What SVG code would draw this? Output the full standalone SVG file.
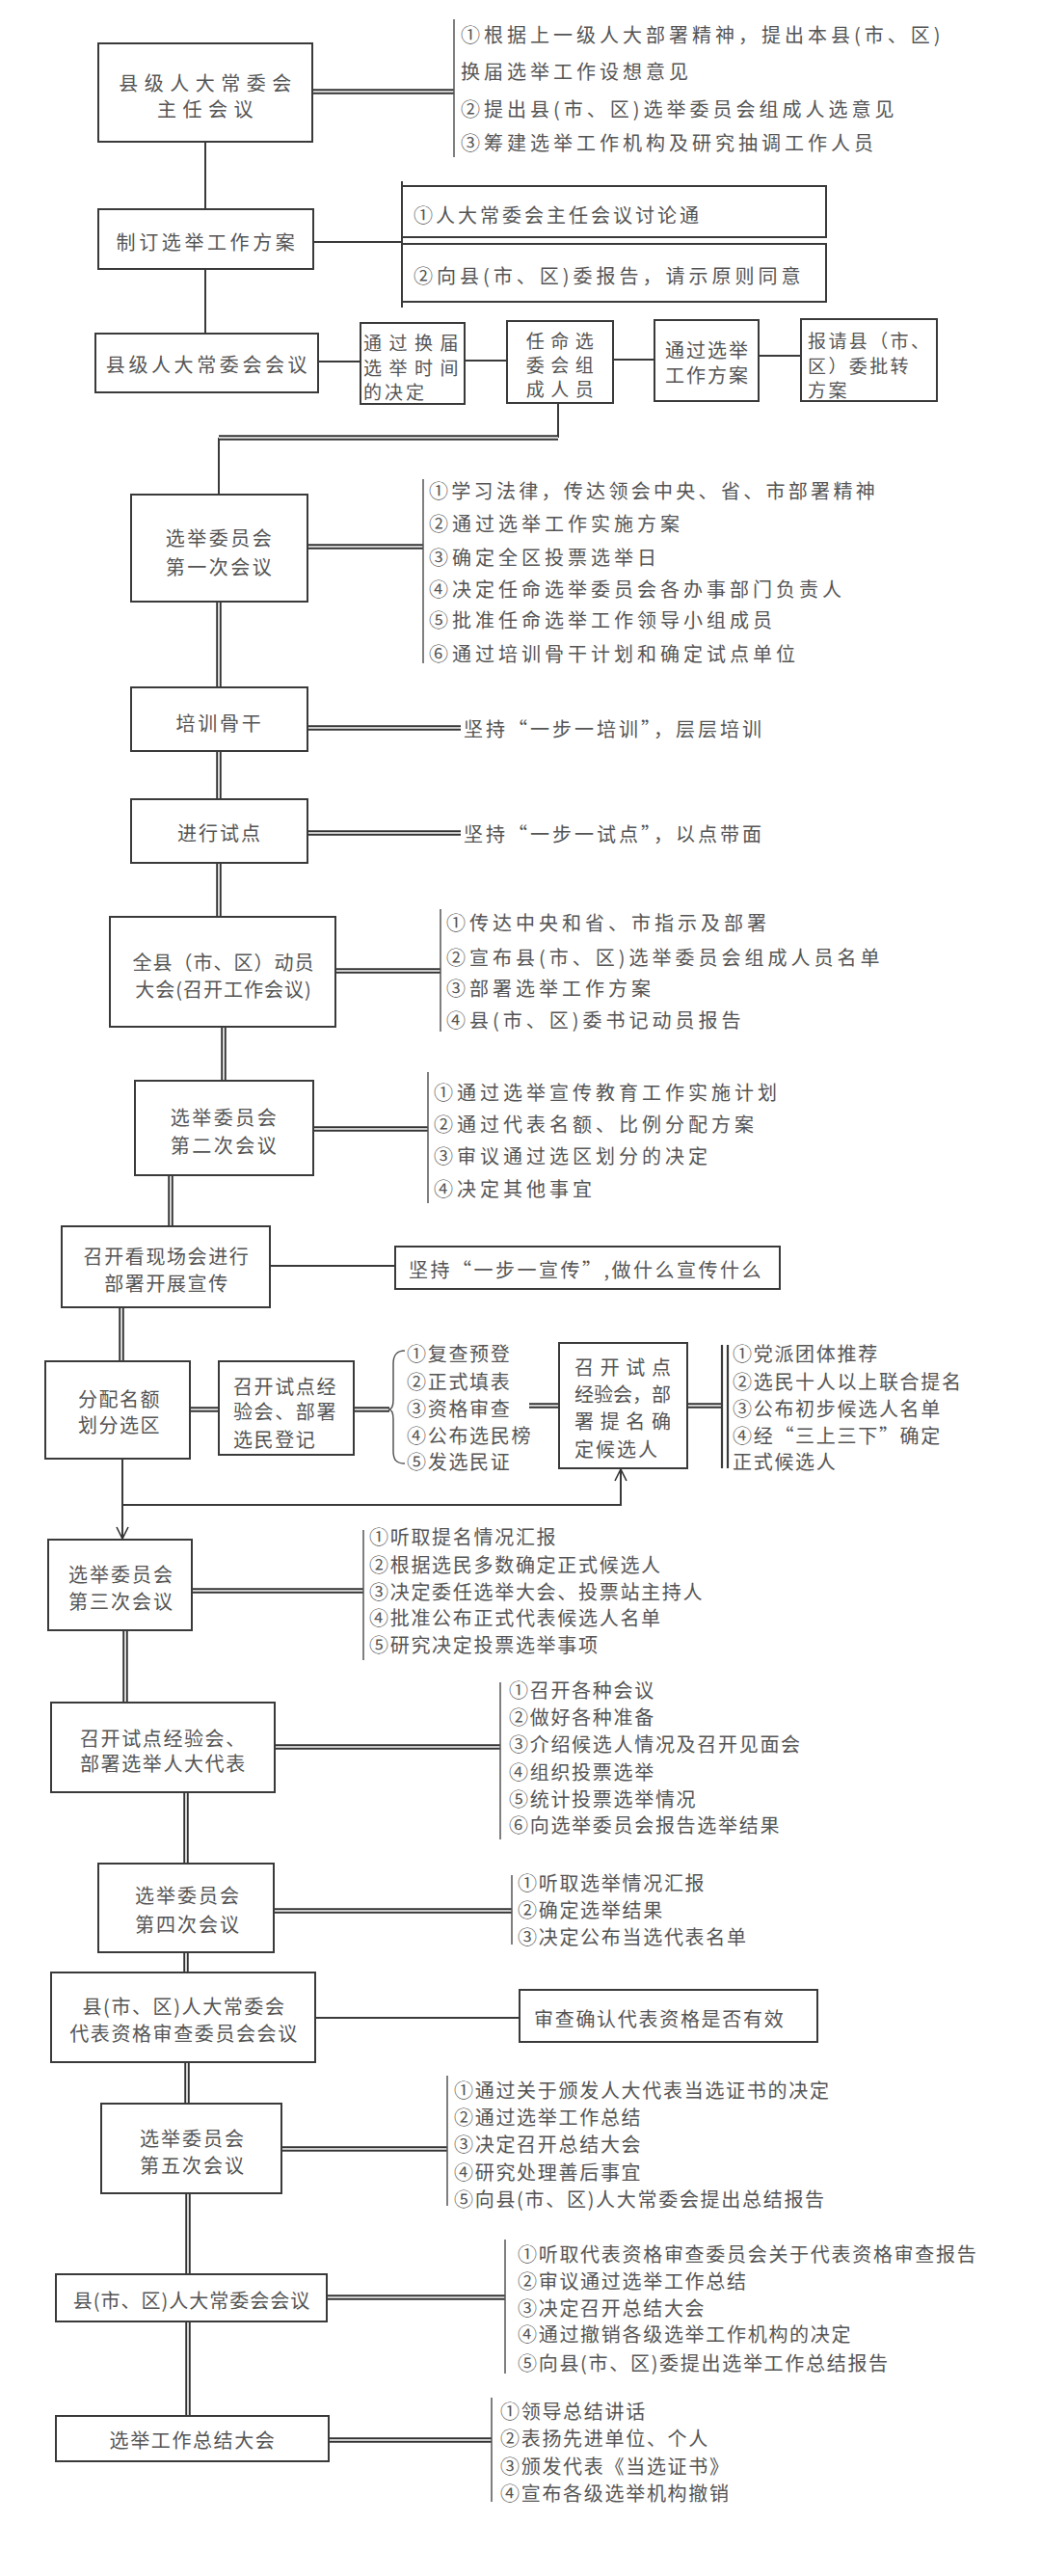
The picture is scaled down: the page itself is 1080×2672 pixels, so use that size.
<svg xmlns="http://www.w3.org/2000/svg" width="1080" height="2672" viewBox="0 0 1080 2672">
<style>
text{font-family:"Noto Sans CJK SC","Noto Sans",sans-serif;fill:#555;font-size:20px;dominant-baseline:central}
.c{text-anchor:middle}
.sm{font-size:19px}
.it{letter-spacing:4px}
.is{letter-spacing:1.7px}
.box{fill:#fff;stroke:#3a3a3a;stroke-width:2}
.ln{fill:none;stroke:#3a3a3a;stroke-width:2}
.dbo{fill:none;stroke:#333;stroke-width:5.5}
.dbi{fill:none;stroke:#fff;stroke-width:1.6}
.br{fill:none;stroke:#555;stroke-width:1.5}
.ar{fill:none;stroke:#333;stroke-width:1.6}
</style>
<defs>
<marker id="arr" viewBox="0 0 14 14" refX="13" refY="7" markerWidth="14" markerHeight="14" markerUnits="userSpaceOnUse" orient="auto">
<path d="M1,1 L13,7 L1,13" class="ar"/>
</marker>
</defs>
<rect width="1080" height="2672" fill="#fff"/>

<g id="connectors">
<path class="ln" d="M213,147 V217 M213,279 V346 M325,251 H417 M417,188 V319 M330,375 H374 M482,374 H526 M636,373 H679 M787,369 H831 M579,418 V454 M227,454 V513 M280,1313 H410 M327,2093 H539"/>
<path class="ln" d="M127,1513 V1596" marker-end="url(#arr)"/>
<path class="ln" d="M127,1561 H644 V1524" marker-end="url(#arr)"/>
<path class="dbo" d="M324,95 H471 M579,454 H227 M319,567 H439 M227,624 V713 M319,755 H478 M227,779 V829 M319,864 H478 M227,895 V951 M232,1065 V1121 M348,1007 H457 M325,1171 H444 M177,1219 V1272 M126,1356 V1412 M197,1462 H227 M367,1462 H404 M549,1458 H580 M713,1458 H749 M199,1650 H377 M130,1691 V1766 M285,1812 H519 M193,1859 V1933 M284,1982 H531 M193,2025 V2046 M194,2139 V2182 M292,2229 H464 M195,2275 V2359 M339,2383 H524 M195,2408 V2506 M341,2531 H510"/>
<path class="dbi" d="M324,95 H471 M579,454 H227 M319,567 H439 M227,624 V713 M319,755 H478 M227,779 V829 M319,864 H478 M227,895 V951 M232,1065 V1121 M348,1007 H457 M325,1171 H444 M177,1219 V1272 M126,1356 V1412 M197,1462 H227 M367,1462 H404 M549,1458 H580 M713,1458 H749 M199,1650 H377 M130,1691 V1766 M285,1812 H519 M193,1859 V1933 M284,1982 H531 M193,2025 V2046 M194,2139 V2182 M292,2229 H464 M195,2275 V2359 M339,2383 H524 M195,2408 V2506 M341,2531 H510"/>
<path class="br" d="M471,20 V163 M439,497 V688 M457,943 V1070 M444,1112 V1248 M377,1587 V1722 M519,1745 V1908 M531,1945 V2017 M464,2153 V2288 M524,2323 V2462 M510,2487 V2595"/>
<path class="br" d="M420,1401 C411,1401 408,1406 408,1415 L408,1452 C408,1459 406,1462 403,1462 C406,1462 408,1465 408,1472 L408,1505 C408,1514 411,1518 420,1518"/>
<path class="ln" d="M749,1395 V1523 M755,1395 V1523" style="stroke-width:2.2"/>
</g>

<g id="n1">
<rect class="box" x="102" y="45" width="222" height="102"/>
<text class="c" x="216" y="85" style="letter-spacing:6.5px">县级人大常委会</text>
<text class="c" x="216" y="112" style="letter-spacing:6.5px">主任会议</text>
</g>
<g id="n1-items">
<text class="it" x="478" y="35">①根据上一级人大部署精神，提出本县(市、区)</text>
<text class="it" x="478" y="73">换届选举工作设想意见</text>
<text class="it" x="478" y="112">②提出县(市、区)选举委员会组成人选意见</text>
<text class="it" x="478" y="147">③筹建选举工作机构及研究抽调工作人员</text>
</g>

<g id="n2">
<rect class="box" x="102" y="217" width="223" height="62"/>
<text class="c" x="215" y="250" style="letter-spacing:3.6px">制订选举工作方案</text>
</g>
<g id="n2a">
<rect class="box" x="417" y="193" width="440" height="53"/>
<text x="429" y="222" style="letter-spacing:3px">①人大常委会主任会议讨论通</text>
</g>
<g id="n2b">
<rect class="box" x="417" y="253" width="440" height="60"/>
<text x="429" y="285" style="letter-spacing:4px">②向县(市、区)委报告，请示原则同意</text>
</g>

<g id="n3">
<rect class="box" x="99" y="346" width="231" height="61"/>
<text class="c" x="216" y="377" style="letter-spacing:3.6px">县级人大常委会会议</text>
</g>
<g id="n3a">
<rect class="box" x="374" y="335" width="108" height="84"/>
<text class="sm" x="377" y="354" style="letter-spacing:7.5px">通过换届</text>
<text class="sm" x="377" y="380" style="letter-spacing:7.5px">选举时间</text>
<text class="sm" x="377" y="405" style="letter-spacing:3px">的决定</text>
</g>
<g id="n3b">
<rect class="box" x="526" y="333" width="110" height="85"/>
<text class="c sm" x="584" y="352" style="letter-spacing:6.5px">任命选</text>
<text class="c sm" x="584" y="377" style="letter-spacing:6.5px">委会组</text>
<text class="c sm" x="584" y="402" style="letter-spacing:6.5px">成人员</text>
</g>
<g id="n3c">
<rect class="box" x="679" y="332" width="108" height="84"/>
<text class="c" x="734" y="362" style="letter-spacing:2px">通过选举</text>
<text class="c" x="734" y="388" style="letter-spacing:2px">工作方案</text>
</g>
<g id="n3d">
<rect class="box" x="831" y="331" width="141" height="85"/>
<text class="sm" x="838" y="352" style="letter-spacing:2.4px">报请县（市、</text>
<text class="sm" x="838" y="378" style="letter-spacing:2.4px">区）委批转</text>
<text class="sm" x="838" y="403" style="letter-spacing:2.4px">方案</text>
</g>

<g id="n4">
<rect class="box" x="136" y="513" width="183" height="111"/>
<text class="c" x="228" y="557" style="letter-spacing:2.5px">选举委员会</text>
<text class="c" x="228" y="587" style="letter-spacing:2.5px">第一次会议</text>
</g>
<g id="n4-items">
<text class="it" x="445" y="508" style="letter-spacing:3.3px">①学习法律，传达领会中央、省、市部署精神</text>
<text class="it" x="445" y="542">②通过选举工作实施方案</text>
<text class="it" x="445" y="577">③确定全区投票选举日</text>
<text class="it" x="445" y="610">④决定任命选举委员会各办事部门负责人</text>
<text class="it" x="445" y="642">⑤批准任命选举工作领导小组成员</text>
<text class="it" x="445" y="677">⑥通过培训骨干计划和确定试点单位</text>
</g>

<g id="n5">
<rect class="box" x="136" y="713" width="183" height="66"/>
<text class="c" x="228" y="749" style="letter-spacing:2.7px">培训骨干</text>
</g>
<text id="n5-note" x="481" y="755" style="letter-spacing:3px">坚持“一步一培训”，层层培训</text>

<g id="n6">
<rect class="box" x="136" y="829" width="183" height="66"/>
<text class="c" x="228" y="863" style="letter-spacing:2px">进行试点</text>
</g>
<text id="n6-note" x="481" y="864" style="letter-spacing:3px">坚持“一步一试点”，以点带面</text>

<g id="n7">
<rect class="box" x="114" y="951" width="234" height="114"/>
<text class="c" x="232" y="997" style="letter-spacing:1px">全县（市、区）动员</text>
<text class="c" x="232" y="1025" style="letter-spacing:1px">大会(召开工作会议)</text>
</g>
<g id="n7-items">
<text class="it" x="463" y="956">①传达中央和省、市指示及部署</text>
<text class="it" x="463" y="992">②宣布县(市、区)选举委员会组成人员名单</text>
<text class="it" x="463" y="1024">③部署选举工作方案</text>
<text class="it" x="463" y="1057">④县(市、区)委书记动员报告</text>
</g>

<g id="n8">
<rect class="box" x="140" y="1121" width="185" height="98"/>
<text class="c" x="233" y="1158" style="letter-spacing:2.5px">选举委员会</text>
<text class="c" x="233" y="1187" style="letter-spacing:2.5px">第二次会议</text>
</g>
<g id="n8-items">
<text class="it" x="450" y="1132">①通过选举宣传教育工作实施计划</text>
<text class="it" x="450" y="1165">②通过代表名额、比例分配方案</text>
<text class="it" x="450" y="1198">③审议通过选区划分的决定</text>
<text class="it" x="450" y="1232">④决定其他事宜</text>
</g>

<g id="n9">
<rect class="box" x="64" y="1272" width="216" height="84"/>
<text class="c" x="173" y="1302" style="letter-spacing:1.6px">召开看现场会进行</text>
<text class="c" x="173" y="1330" style="letter-spacing:1.6px">部署开展宣传</text>
</g>
<g id="n9a">
<rect class="box" x="410" y="1293" width="399" height="44"/>
<text x="424" y="1316" style="letter-spacing:2.5px">坚持“一步一宣传”,做什么宣传什么</text>
</g>

<g id="n10">
<rect class="box" x="47" y="1412" width="150" height="101"/>
<text class="c" x="124" y="1450" style="letter-spacing:1.5px">分配名额</text>
<text class="c" x="124" y="1477" style="letter-spacing:1.5px">划分选区</text>
</g>
<g id="n10a">
<rect class="box" x="227" y="1412" width="140" height="97"/>
<text x="242" y="1437" style="letter-spacing:1.6px">召开试点经</text>
<text x="242" y="1463" style="letter-spacing:1.6px">验会、部署</text>
<text x="242" y="1492" style="letter-spacing:1.6px">选民登记</text>
</g>
<g id="n10a-items">
<text class="is" x="422" y="1403">①复查预登</text>
<text class="is" x="422" y="1432">②正式填表</text>
<text class="is" x="422" y="1460">③资格审查</text>
<text class="is" x="422" y="1488">④公布选民榜</text>
<text class="is" x="422" y="1515">⑤发选民证</text>
</g>
<g id="n10b">
<rect class="box" x="580" y="1393" width="133" height="130"/>
<text x="596" y="1417" textLength="100" lengthAdjust="spacing">召开试点</text>
<text x="596" y="1445">经验会，部</text>
<text x="596" y="1473" textLength="100" lengthAdjust="spacing">署提名确</text>
<text x="596" y="1502" style="letter-spacing:2px">定候选人</text>
</g>
<g id="n10b-items">
<text class="is" x="760" y="1403">①党派团体推荐</text>
<text class="is" x="760" y="1432">②选民十人以上联合提名</text>
<text class="is" x="760" y="1460">③公布初步候选人名单</text>
<text class="is" x="760" y="1488">④经“三上三下”确定</text>
<text class="is" x="760" y="1515">正式候选人</text>
</g>

<g id="n11">
<rect class="box" x="50" y="1597" width="149" height="94"/>
<text class="c" x="126" y="1632" style="letter-spacing:2px">选举委员会</text>
<text class="c" x="126" y="1660" style="letter-spacing:2px">第三次会议</text>
</g>
<g id="n11-items">
<text class="is" x="383" y="1593">①听取提名情况汇报</text>
<text class="is" x="383" y="1622">②根据选民多数确定正式候选人</text>
<text class="is" x="383" y="1650">③决定委任选举大会、投票站主持人</text>
<text class="is" x="383" y="1677">④批准公布正式代表候选人名单</text>
<text class="is" x="383" y="1705">⑤研究决定投票选举事项</text>
</g>

<g id="n12">
<rect class="box" x="53" y="1766" width="232" height="93"/>
<text x="83" y="1802" style="letter-spacing:1.6px">召开试点经验会、</text>
<text x="83" y="1828" style="letter-spacing:1.6px">部署选举人大代表</text>
</g>
<g id="n12-items">
<text class="is" x="528" y="1752">①召开各种会议</text>
<text class="is" x="528" y="1780">②做好各种准备</text>
<text class="is" x="528" y="1808">③介绍候选人情况及召开见面会</text>
<text class="is" x="528" y="1837">④组织投票选举</text>
<text class="is" x="528" y="1865">⑤统计投票选举情况</text>
<text class="is" x="528" y="1892">⑥向选举委员会报告选举结果</text>
</g>

<g id="n13">
<rect class="box" x="102" y="1933" width="182" height="92"/>
<text class="c" x="195" y="1965" style="letter-spacing:2px">选举委员会</text>
<text class="c" x="195" y="1995" style="letter-spacing:2px">第四次会议</text>
</g>
<g id="n13-items">
<text class="is" x="537" y="1952">①听取选举情况汇报</text>
<text class="is" x="537" y="1980">②确定选举结果</text>
<text class="is" x="537" y="2008">③决定公布当选代表名单</text>
</g>

<g id="n14">
<rect class="box" x="53" y="2046" width="274" height="93"/>
<text class="c" x="191" y="2080" style="letter-spacing:1.6px">县(市、区)人大常委会</text>
<text class="c" x="191" y="2108" style="letter-spacing:1.6px">代表资格审查委员会会议</text>
</g>
<g id="n14a">
<rect class="box" x="539" y="2064" width="309" height="54"/>
<text class="is" x="554" y="2093">审查确认代表资格是否有效</text>
</g>

<g id="n15">
<rect class="box" x="105" y="2182" width="187" height="93"/>
<text class="c" x="200" y="2217" style="letter-spacing:2px">选举委员会</text>
<text class="c" x="200" y="2245" style="letter-spacing:2px">第五次会议</text>
</g>
<g id="n15-items">
<text class="is" x="471" y="2167">①通过关于颁发人大代表当选证书的决定</text>
<text class="is" x="471" y="2195">②通过选举工作总结</text>
<text class="is" x="471" y="2223">③决定召开总结大会</text>
<text class="is" x="471" y="2252">④研究处理善后事宜</text>
<text class="is" x="471" y="2280">⑤向县(市、区)人大常委会提出总结报告</text>
</g>

<g id="n16">
<rect class="box" x="58" y="2359" width="281" height="49"/>
<text class="c" x="199" y="2385" style="letter-spacing:1px">县(市、区)人大常委会会议</text>
</g>
<g id="n16-items">
<text class="is" x="537" y="2337">①听取代表资格审查委员会关于代表资格审查报告</text>
<text class="is" x="537" y="2365">②审议通过选举工作总结</text>
<text class="is" x="537" y="2393">③决定召开总结大会</text>
<text class="is" x="537" y="2420">④通过撤销各级选举工作机构的决定</text>
<text class="is" x="537" y="2450">⑤向县(市、区)委提出选举工作总结报告</text>
</g>

<g id="n17">
<rect class="box" x="58" y="2506" width="283" height="47"/>
<text class="c" x="200" y="2530" style="letter-spacing:1.6px">选举工作总结大会</text>
</g>
<g id="n17-items">
<text class="is" x="519" y="2500">①领导总结讲话</text>
<text class="is" x="519" y="2528">②表扬先进单位、个人</text>
<text class="is" x="519" y="2557">③颁发代表《当选证书》</text>
<text class="is" x="519" y="2585">④宣布各级选举机构撤销</text>
</g>
</svg>
